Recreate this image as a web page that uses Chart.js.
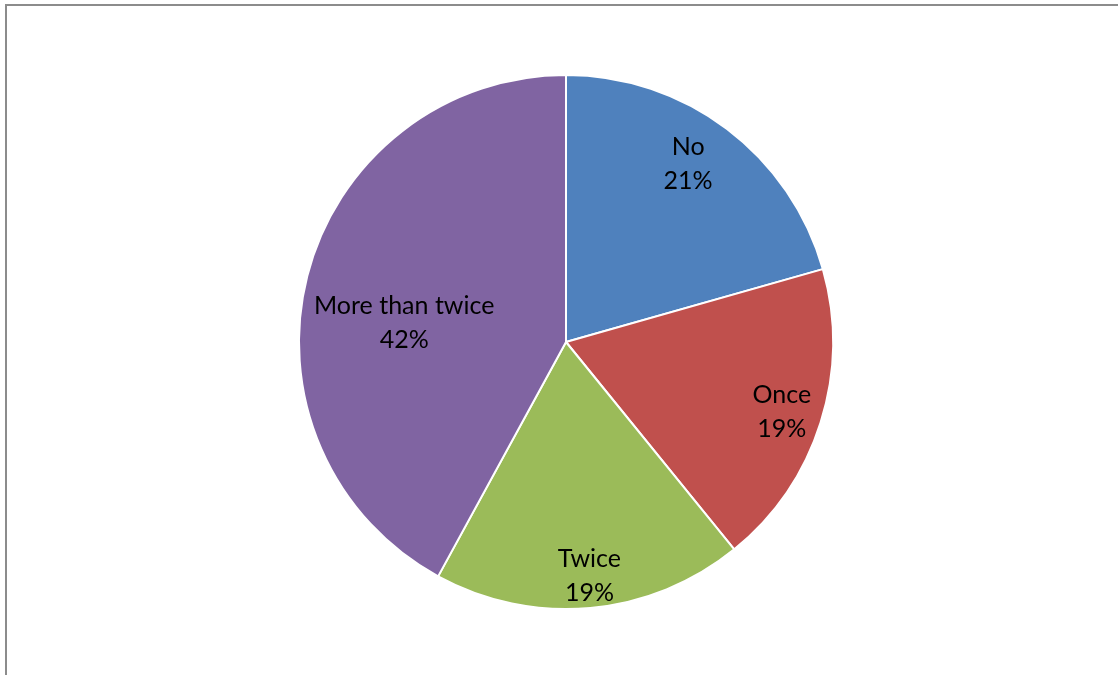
<!DOCTYPE html>
<html>
<head>
<meta charset="utf-8">
<script src="https://cdn.jsdelivr.net/npm/chart.js@4.4.0/dist/chart.umd.min.js"></script>
<style>
  html, body { margin: 0; padding: 0; background: #fff; overflow: hidden; }
  #wrap { position: absolute; left: 0; top: 0; width: 1118px; height: 675px; }
  #frame { position: absolute; left: 5px; top: 4px; width: 1200px; height: 800px; border: 2px solid #8c8c8c; }
</style>
</head>
<body>
<div id="frame"></div>
<div id="wrap"><canvas id="pieChart" width="1118" height="675"></canvas></div>
<script>
// Chart data (share of respondents, %)
const categories = ['No', 'Once', 'Twice', 'More than twice'];
const shares = [20.6, 18.55, 18.8, 42.05];
const sliceColors = ['#4F81BD', '#C0504D', '#9BBB59', '#8064A2'];

// Data labels drawn inside each slice (category + percent)
const sliceLabels = {
    id: 'sliceLabels',
    afterDatasetsDraw(chart, args, opts) {
        const ctx = chart.ctx;
        const meta = chart.getDatasetMeta(0);
        const data = chart.data.datasets[0].data;
        const total = data.reduce((a, b) => a + b, 0);
        ctx.save();
        ctx.font = opts.font;
        ctx.fillStyle = '#000';
        ctx.textAlign = 'center';
        ctx.textBaseline = 'middle';
        meta.data.forEach((arc, i) => {
            const p = arc.getProps(['x', 'y', 'startAngle', 'endAngle', 'outerRadius'], true);
            // best-fit placement: nudge along the arc a bit like Excel does
            const mid = (p.startAngle + p.endAngle) / 2 + opts.shifts[i] * Math.PI / 180;
            const r = p.outerRadius * opts.fractions[i];
            const x = p.x + Math.cos(mid) * r;
            const y = p.y + Math.sin(mid) * r;
            const pct = Math.round(data[i] / total * 100) + '%';
            ctx.fillText(chart.data.labels[i], x, y - opts.lineGap / 2);
            ctx.fillText(pct, x, y + opts.lineGap / 2);
        });
        ctx.restore();
    }
};

const ctx = document.getElementById('pieChart').getContext('2d');
new Chart(ctx, {
    type: 'pie',
    data: {
        labels: categories,
        datasets: [{
            data: shares,
            backgroundColor: sliceColors,
            borderColor: '#ffffff',
            borderWidth: 2
        }]
    },
    options: {
        responsive: false,
        animation: false,
        layout: { padding: { left: 14, right: 0, top: 74, bottom: 65 } },
        plugins: {
            legend: { display: false },
            tooltip: { enabled: false },
            sliceLabels: {
                font: '25px Lato',
                lineGap: 34,
                fractions: [0.81, 0.85, 0.88, 0.61],
                shifts: [-2.7, 0.5, -0.5, -7.7]
            }
        }
    },
    plugins: [sliceLabels]
});
</script>
</body>
</html>
